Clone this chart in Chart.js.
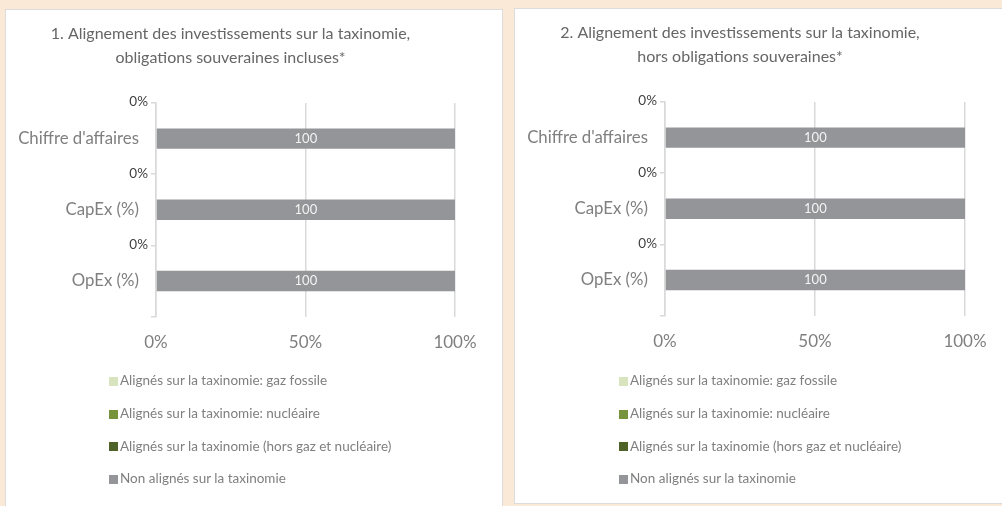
<!DOCTYPE html>
<html lang="fr">
<head>
<meta charset="utf-8">
<title>Alignement taxinomie</title>
<script src="https://cdn.jsdelivr.net/npm/chart.js@4.4.1/dist/chart.umd.min.js"></script>
<style>
    body {
        margin: 0;
        width: 1002px;
        height: 506px;
        overflow: hidden;
        position: relative;
        background: #fbe9d7;
        font-family: Lato, 'Open Sans', sans-serif;
    }
    .panel {
        position: absolute;
        background: #fff;
        border: 1px solid #dcdcdc;
        box-sizing: border-box;
    }
    #panel1 { left: 5px; top: 9px; width: 498px; height: 510px; }
    #panel2 { left: 514px; top: 8px; width: 500px; height: 496px; }
    .panel canvas { position: absolute; left: 0; top: 0; }
    .legend {
        position: absolute;
        left: 103px;
        top: 354px;
        list-style: none;
        margin: 0;
        padding: 0;
    }
    #panel2 .legend { left: 104px; top: 355px; }
    .legend li {
        height: 32.7px;
        display: flex;
        align-items: center;
        font-size: 13.5px;
        color: #7f7f7f;
        white-space: nowrap;
    }
    .legend span {
        display: inline-block;
        width: 9px;
        height: 9px;
        margin-right: 2px;
        margin-top: 2px;
    }
</style>
</head>
<body>
<div class="panel" id="panel1">
    <canvas id="chart1" width="491" height="369"></canvas>
    <ul class="legend" id="legend1"></ul>
</div>
<div class="panel" id="panel2">
    <canvas id="chart2" width="494" height="370"></canvas>
    <ul class="legend" id="legend2"></ul>
</div>
<script>
const categories = ["Chiffre d'affaires", 'CapEx (%)', 'OpEx (%)'];
const seriesNames = [
    'Alignés sur la taxinomie: gaz fossile',
    'Alignés sur la taxinomie: nucléaire',
    'Alignés sur la taxinomie (hors gaz et nucléaire)',
    'Non alignés sur la taxinomie'
];
const xTicks = [0, 50, 100];

// 1. obligations souveraines incluses
const gazFossile1 = [0, 0, 0];
const nucleaire1 = [0, 0, 0];
const horsGazNucleaire1 = [0, 0, 0];
const nonAlignes1 = [100, 100, 100];

// 2. hors obligations souveraines
const gazFossile2 = [0, 0, 0];
const nucleaire2 = [0, 0, 0];
const horsGazNucleaire2 = [0, 0, 0];
const nonAlignes2 = [100, 100, 100];

const title1 = ['1. Alignement des investissements sur la taxinomie,', 'obligations souveraines incluses*'];
const title2 = ['2. Alignement des investissements sur la taxinomie,', 'hors obligations souveraines*'];

const seriesColors = ['#d7e4bd', '#77933c', '#4f6228', '#939598'];
const FONT = 'Lato';

// value inside each bar + share label of the first series at the top of each row
const valueLabels = {
    id: 'valueLabels',
    afterDatasetsDraw(chart) {
        const { ctx, chartArea, scales: { y } } = chart;
        ctx.save();
        ctx.textBaseline = 'middle';
        ctx.font = '13px ' + FONT;
        chart.data.datasets.forEach((ds, di) => {
            const meta = chart.getDatasetMeta(di);
            ds.data.forEach((v, i) => {
                if (v > 0) {
                    const p = meta.data[i].getCenterPoint();
                    ctx.fillStyle = '#f4f4f4';
                    ctx.textAlign = 'center';
                    ctx.fillText(String(v), p.x, p.y);
                }
            });
        });
        const half = (y.getPixelForValue(1) - y.getPixelForValue(0)) / 2;
        ctx.font = '13.5px ' + FONT;
        ctx.fillStyle = '#404040';
        ctx.textAlign = 'right';
        chart.data.datasets[0].data.forEach((v, i) => {
            ctx.fillText(v + '%', chartArea.left - 8, y.getPixelForValue(i) - half - 1);
        });
        ctx.restore();
    }
};

// legend as a vertical html list
const htmlLegend = {
    id: 'htmlLegend',
    afterUpdate(chart, args, opts) {
        const ul = document.getElementById(opts.containerID);
        ul.innerHTML = '';
        const items = chart.options.plugins.legend.labels.generateLabels(chart);
        items.forEach(item => {
            const li = document.createElement('li');
            const box = document.createElement('span');
            box.style.background = item.fillStyle;
            li.appendChild(box);
            li.appendChild(document.createTextNode(item.text));
            ul.appendChild(li);
        });
    }
};

function buildChart(id, legendId, title, series, padRight, padBottom) {
    const ctx = document.getElementById(id).getContext('2d');
    return new Chart(ctx, {
        type: 'bar',
        data: {
            labels: categories,
            datasets: series.map((data, i) => ({
                label: seriesNames[i],
                data,
                backgroundColor: seriesColors[i],
                borderWidth: 0,
                categoryPercentage: 1,
                barPercentage: 0.286
            }))
        },
        options: {
            indexAxis: 'y',
            responsive: false,
            animation: false,
            layout: { padding: { left: 0, right: padRight, top: 0, bottom: padBottom } },
            scales: {
                x: {
                    stacked: true,
                    min: xTicks[0],
                    max: xTicks[xTicks.length - 1],
                    afterBuildTicks(scale) {
                        scale.ticks = xTicks.map(v => ({ value: v }));
                    },
                    ticks: {
                        padding: 16,
                        color: '#7f7f7f',
                        font: { family: FONT, size: 17 },
                        callback: v => v + '%'
                    },
                    grid: { color: '#d9d9d9', lineWidth: 1.5, drawTicks: false },
                    border: { display: false }
                },
                y: {
                    stacked: true,
                    offset: true,
                    afterFit(scale) { scale.width = 150; },
                    ticks: {
                        padding: 12,
                        color: '#7f7f7f',
                        font: { family: FONT, size: 16.8 }
                    },
                    grid: {
                        offset: true,
                        drawOnChartArea: false,
                        tickLength: 5,
                        color: '#d9d9d9',
                        lineWidth: 1.5
                    },
                    border: { color: '#d9d9d9', width: 1.5 }
                }
            },
            plugins: {
                legend: { display: false },
                tooltip: { enabled: false },
                title: {
                    display: true,
                    text: title,
                    color: '#666666',
                    font: { family: FONT, size: 16, weight: 'normal', lineHeight: 1.5 },
                    padding: { top: 12, bottom: 33 }
                },
                htmlLegend: { containerID: legendId }
            }
        },
        plugins: [valueLabels, htmlLegend]
    });
}

buildChart('chart1', 'legend1', title1,
    [gazFossile1, nucleaire1, horsGazNucleaire1, nonAlignes1], 42, 10);
buildChart('chart2', 'legend2', title2,
    [gazFossile2, nucleaire2, horsGazNucleaire2, nonAlignes2], 44, 11);
</script>
</body>
</html>
